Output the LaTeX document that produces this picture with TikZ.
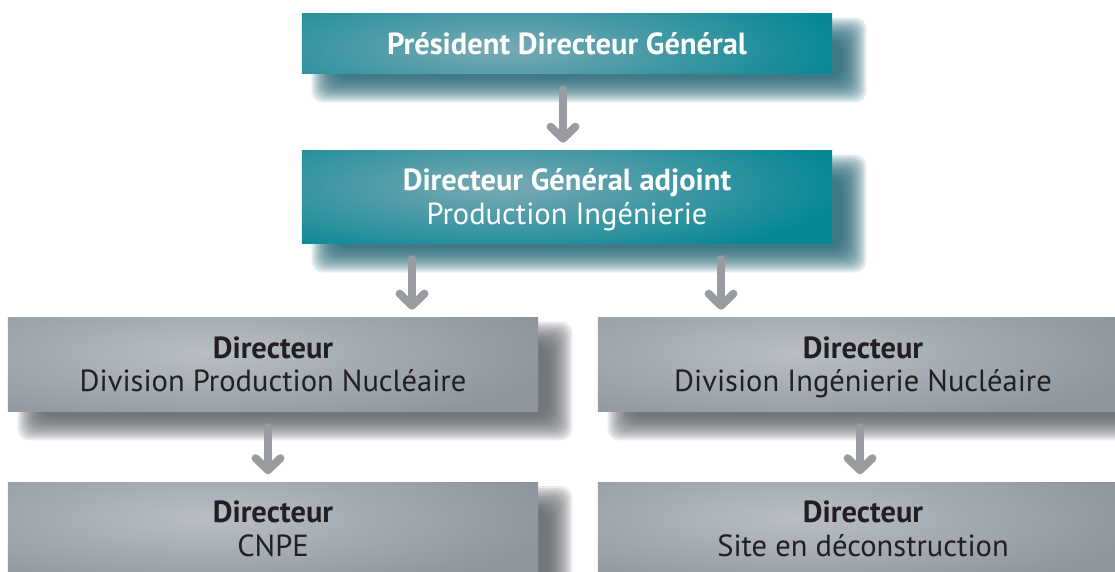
\documentclass[tikz,border=0pt]{standalone}
\usepackage{fontspec}
\setmainfont{PT Sans}
\usetikzlibrary{calc,arrows.meta,backgrounds}

\definecolor{tealfill}{HTML}{058794}
\definecolor{tealglow}{HTML}{7AA9B4}
\definecolor{tealshade}{HTML}{1B5F6E}
\definecolor{greyfill}{HTML}{8E959C}
\definecolor{greyglow}{HTML}{B8BEC4}
\definecolor{greyshade}{HTML}{575C62}
\definecolor{greytext}{HTML}{231F20}
\definecolor{arrowgrey}{HTML}{989BA0}

% soft light patch in the upper left of a box
\newcommand\boxglow[2]{%
  \shade[inner color=#1, outer color=#2]
    ($(path picture bounding box.north west)+(-150,-45)$) rectangle
    ($(path picture bounding box.north west)+(550,115)$);
}
% blurred drop shadow, lower right
\newcommand\boxshadow[2]{%
  \foreach \s in {12,10,...,-12}
    \fill[#2, opacity=0.13, rounded corners=8pt]
      ($(#1.north west)+(22-\s,16-\s)$) rectangle ($(#1.south east)+(22+\s,17+\s)$);
}
% title line and function line of a box
\newcommand\boxtext[2]{\raisebox{0pt}[15pt][0pt]{\textbf{#1}}\\\raisebox{0pt}[15pt][0pt]{#2}}

\tikzset{
  orgbox/.style={rectangle, minimum width=13.25cm, inner sep=0pt, align=center,
    font=\fontsize{21.7}{24}\selectfont},
  tealbox/.style={orgbox, fill=tealfill, text=white, path picture={\boxglow{tealglow}{tealfill}}},
  greybox/.style={orgbox, fill=greyfill, text=greytext, minimum height=2.325cm,
    path picture={\boxglow{greyglow}{greyfill}}},
  flow/.style={draw=arrowgrey, line width=0.2cm, line cap=round,
    -{Straight Barb[length=0.3cm, width=0.62cm, round]},
    shorten <=0.4cm, shorten >=0.2cm}
}

\begin{document}
\begin{tikzpicture}[x=0.025cm, y=-0.025cm]
  \useasboundingbox (0,0) rectangle (1115,571);

  % boxes
  \node[tealbox, minimum height=1.475cm] (pdg) at (567,43.5) {\bfseries Président Directeur Général};
  \node[tealbox, minimum height=2.3cm] (dga) at (567,197) {\boxtext{Directeur Général adjoint}{Production Ingénierie}};

  \node[greybox] (dpn) at (273,364.5) {\boxtext{Directeur}{Division Production Nucléaire}};
  \node[greybox] (din) at (863,364.5) {\boxtext{Directeur}{Division Ingénierie Nucléaire}};

  \node[greybox] (cnpe) at (273,529) {\boxtext{Directeur}{CNPE}};
  \node[greybox] (site) at (863,529) {\boxtext{Directeur}{Site en déconstruction}};

  % shadows
  \begin{pgfonlayer}{background}
    \boxshadow{pdg}{tealshade}
    \boxshadow{dga}{tealshade}
    \boxshadow{dpn}{greyshade}
    \boxshadow{din}{greyshade}
    \boxshadow{cnpe}{greyshade}
    \boxshadow{site}{greyshade}
  \end{pgfonlayer}

  % arrow columns
  \coordinate (colTop) at (563,0);
  \coordinate (colA) at (412,0);
  \coordinate (colB) at (721,0);
  \coordinate (colC) at (268,0);
  \coordinate (colD) at (860,0);

  \draw[flow] (pdg.south -| colTop) -- (dga.north -| colTop);
  \draw[flow] (dga.south -| colA) -- (dpn.north -| colA);
  \draw[flow] (dga.south -| colB) -- (din.north -| colB);
  \draw[flow] (dpn.south -| colC) -- (cnpe.north -| colC);
  \draw[flow] (din.south -| colD) -- (site.north -| colD);
\end{tikzpicture}
\end{document}
